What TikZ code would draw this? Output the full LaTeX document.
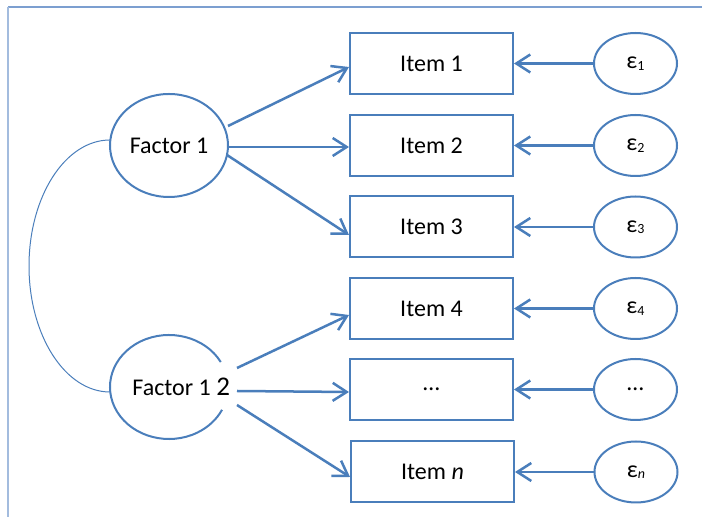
\documentclass[tikz,border=0pt]{standalone}
\usepackage{fontspec}
\setmainfont{Carlito}
\usetikzlibrary{arrows.meta,calc,shapes.geometric}
\definecolor{ms}{HTML}{4A7EBB}
\definecolor{frameA}{HTML}{7C9FD0}
\definecolor{frameB}{HTML}{A3BCDE}
\newcommand\epsub[1]{ε\raisebox{-0.7pt}{\fontsize{7}{8}\selectfont #1}}
\begin{document}
\begin{tikzpicture}[x=0.5pt,y=-0.5pt,
 every node/.style={font=\fontsize{12}{14}\selectfont, text=black},
 itembox/.style={draw=ms, line width=1pt, rectangle, minimum width=81.5pt, minimum height=30.5pt, inner sep=0pt},
 factor/.style={draw=ms, line width=1pt, ellipse, minimum width=59pt, minimum height=51.5pt, inner sep=0pt},
 errnode/.style={draw=ms, line width=1pt, ellipse, minimum width=41.5pt, minimum height=30.5pt, inner sep=0pt},
 loadarrow/.style={draw=ms, line width=1.25pt, -{Straight Barb[length=7pt,width=9pt]}},
 corr/.style={draw=ms, line width=0.5pt}
 ]
\useasboundingbox (0,0) rectangle (702,517);
\draw[frameA, line width=0.75pt] (8,7) -- (702,7);
\draw[frameB, line width=0.75pt] (8,7) -- (8,517);

% items
\node[itembox] (i1) at (431.5,63.5) {Item 1};
\node[itembox] (i2) at (431.5,145.5) {Item 2};
\node[itembox] (i3) at (431.5,227) {Item 3};
\node[itembox] (i4) at (431.5,308.5) {Item 4};
\node[itembox] (i5) at (431.5,389.5) {…};
\node[itembox] (i6) at (432.5,471.5) {Item \textit{n}};

% errors
\node[errnode] (e1) at (635.5,63.5) {\epsub{1}};
\node[errnode] (e2) at (635.5,145.5) {\epsub{2}};
\node[errnode] (e3) at (635.5,227) {\epsub{3}};
\node[errnode] (e4) at (635.5,308.5) {\epsub{4}};
\node[errnode] (e5) at (635.5,389.5) {…};
\node[errnode] (e6) at (636,472) {\epsub{\textit{n}}};

% factors
\node[factor] (f1) at (169,145.5) {Factor 1};
\node[factor, draw=none] (f2) at (169,387) {};
\draw[ms, line width=1pt] ([shift={(28.7:29.5pt and 26pt)}]f2.center) arc[start angle=28.7, end angle=334, x radius=29.5pt, y radius=26pt];
\node[anchor=west, inner sep=0pt] (f2t) at (132,387) {Factor 1 {\fontsize{13.5}{14}\selectfont 2}};

% correlation
\draw[corr] ($(f1.center)+(-59,-5.5)$) arc[start angle=90, end angle=270, x radius=40.5pt, y radius=63pt];

% loadings
\draw[loadarrow] ($(f1.center)+(59,-19.5)$) -- ($(i1.west)+(0,3.5)$);
\draw[loadarrow] ($(f1.center)+(59,1.5)$) -- ($(i2.west)+(0,1.5)$);
\draw[loadarrow] ($(f1.center)+(58,9.5)$) -- ($(i3.west)+(0,8)$);
\draw[loadarrow] ($(f2.center)+(68,-19)$) -- ($(i4.west)+(0,6.5)$);
\draw[loadarrow] ($(f2.center)+(68,4)$) -- ($(i5.west)+(0,2.5)$);
\draw[loadarrow] ($(f2.center)+(68,18)$) -- ($(i6.west)+(0,5.5)$);

% error arrows
\draw[loadarrow] (e1.west) -- (e1.west -| i1.east);
\draw[loadarrow] (e2.west) -- (e2.west -| i2.east);
\draw[loadarrow] (e3.west) -- (e3.west -| i3.east);
\draw[loadarrow] (e4.west) -- (e4.west -| i4.east);
\draw[loadarrow] (e5.west) -- (e5.west -| i5.east);
\draw[loadarrow] (e6.west) -- (e6.west -| i6.east);
\end{tikzpicture}
\end{document}
